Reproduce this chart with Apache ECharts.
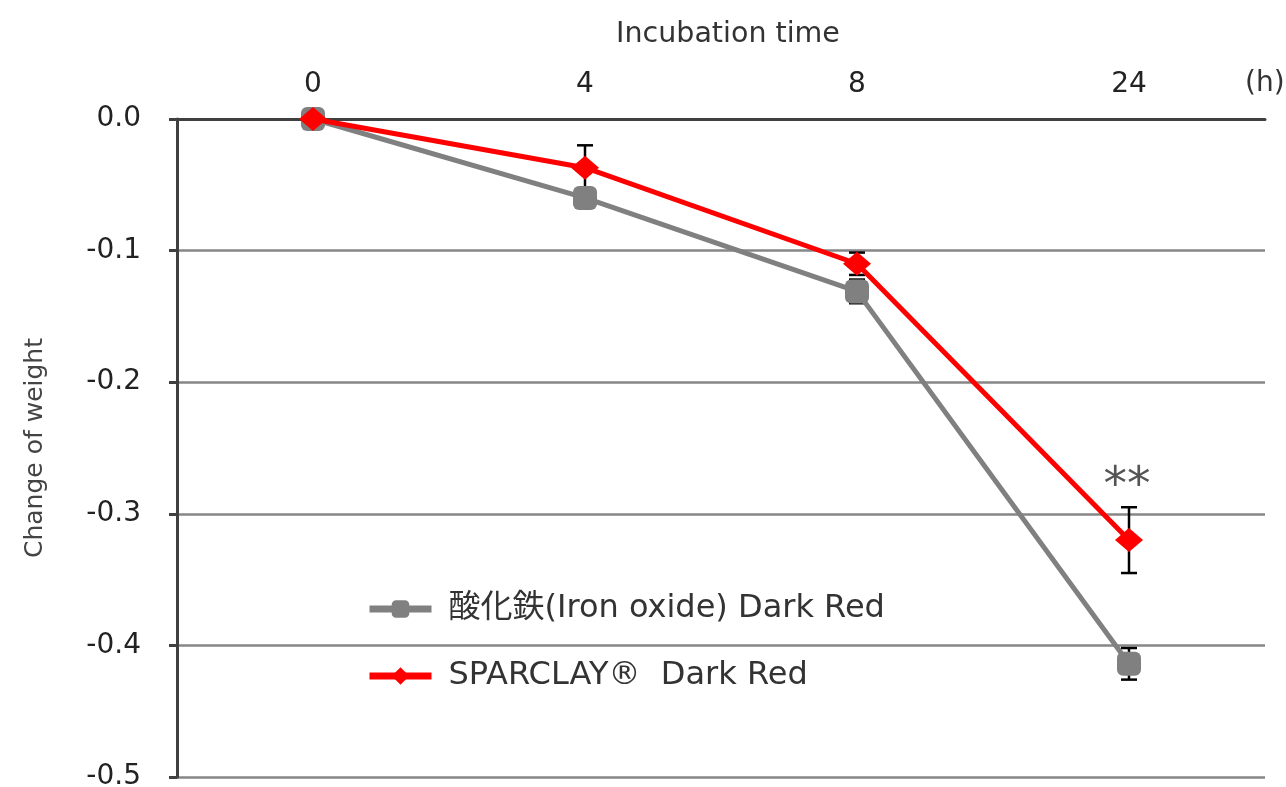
<!DOCTYPE html>
<html>
<head>
<meta charset="utf-8">
<script src="https://cdn.jsdelivr.net/npm/echarts@6/dist/echarts.min.js"></script>
<style>html,body{margin:0;padding:0;background:#fff;overflow:hidden;}#c{width:1286px;height:787px;}</style>
</head>
<body>
<div id="c"></div>
<script>
const categories = ['0', '4', '8', '24'];
const ironOxide = [0, -0.060, -0.131, -0.414];
const ironOxideErr = [0, 0.005, 0.009, 0.012];
const sparclay = [0, -0.037, -0.110, -0.320];
const sparclayErr = [0, 0.017, 0.0085, 0.025];
const significance = ['', '', '', '**'];
const seriesNames = ['酸化鉄(Iron oxide) Dark Red', 'SPARCLAY®  Dark Red'];

const FONT = "'DejaVu Sans', 'Noto Sans CJK JP', sans-serif";
const chart = echarts.init(document.getElementById('c'), null, { width: 1286, height: 787 });

function errData(vals, errs) {
  return vals.map((v, i) => [i, v - errs[i], v + errs[i]]).filter((d, i) => errs[i] > 0);
}
function errRender(params, api) {
  const x = api.value(0);
  const lo = api.coord([x, api.value(1)]);
  const hi = api.coord([x, api.value(2)]);
  const cap = 8;
  const style = { stroke: '#000', lineWidth: 2.5 };
  return {
    type: 'group',
    children: [
      { type: 'line', shape: { x1: lo[0], y1: lo[1], x2: hi[0], y2: hi[1] }, style },
      { type: 'line', shape: { x1: lo[0] - cap, y1: lo[1], x2: lo[0] + cap, y2: lo[1] }, style },
      { type: 'line', shape: { x1: hi[0] - cap, y1: hi[1], x2: hi[0] + cap, y2: hi[1] }, style }
    ]
  };
}

const sparclayData = sparclay.map((v, i) => significance[i] ? {
  value: v,
  label: { show: true, formatter: significance[i], position: 'top', distance: 18,
           fontSize: 47, color: '#555', fontFamily: FONT, offset: [-2, 0] }
} : v);

chart.setOption({
  animation: false,
  grid: { left: 177, right: 21, top: 119, bottom: 10, outerBoundsMode: 'none', containLabel: false },
  legend: {
    orient: 'vertical', left: 361, top: 586,
    itemWidth: 62, itemHeight: 22, itemGap: 31,
    data: seriesNames,
    lineStyle: { width: 7 },
    textStyle: { fontSize: 32, lineHeight: 36, color: '#333', fontFamily: FONT,
                 padding: [0, 0, 0, 12] }
  },
  xAxis: {
    type: 'category', position: 'top', data: categories, boundaryGap: true,
    name: 'Incubation time', nameLocation: 'middle', nameGap: 70,
    nameTextStyle: { fontSize: 28.5, color: '#333', fontFamily: FONT, padding: [0, 0, 0, 14] },
    axisLine: { lineStyle: { color: '#404040', width: 3 } },
    axisTick: { inside: true, length: 10, lineStyle: { color: '#404040', width: 3 } },
    axisLabel: { fontSize: 28, color: '#222', margin: 20, fontFamily: FONT },
    splitLine: { show: false }
  },
  yAxis: {
    type: 'value', min: -0.5, max: 0, interval: 0.1,
    name: 'Change of weight', nameLocation: 'middle', nameGap: 129,
    nameTextStyle: { fontSize: 25, color: '#444', fontFamily: FONT },
    axisLine: { show: true, lineStyle: { color: '#404040', width: 3 } },
    axisTick: { show: true, length: 8, lineStyle: { color: '#404040', width: 3 } },
    axisLabel: { fontSize: 28, color: '#222', margin: 36, fontFamily: FONT,
                 formatter: v => v.toFixed(1) },
    splitLine: { show: true, lineStyle: { color: '#868686', width: 2.5 } }
  },
  graphic: [{
    type: 'text', left: 1245, top: 70,
    style: { text: '(h)', fontSize: 28, fill: '#333', fontFamily: FONT }
  }],
  series: [
    { type: 'custom', name: 'errIron', data: errData(ironOxide, ironOxideErr),
      renderItem: errRender, z: 1, silent: true },
    { type: 'custom', name: 'errSpar', data: errData(sparclay, sparclayErr),
      renderItem: errRender, z: 1, silent: true },
    { type: 'line', name: seriesNames[0], data: ironOxide, z: 3,
      color: '#808080', lineStyle: { width: 5, color: '#808080' },
      symbol: 'roundRect', symbolSize: 24, itemStyle: { color: '#808080' } },
    { type: 'line', name: seriesNames[1], data: sparclayData, z: 4,
      color: '#ff0000', lineStyle: { width: 5, color: '#ff0000' },
      symbol: 'diamond', symbolSize: [28, 24], itemStyle: { color: '#ff0000' } }
  ]
});
</script>
</body>
</html>
